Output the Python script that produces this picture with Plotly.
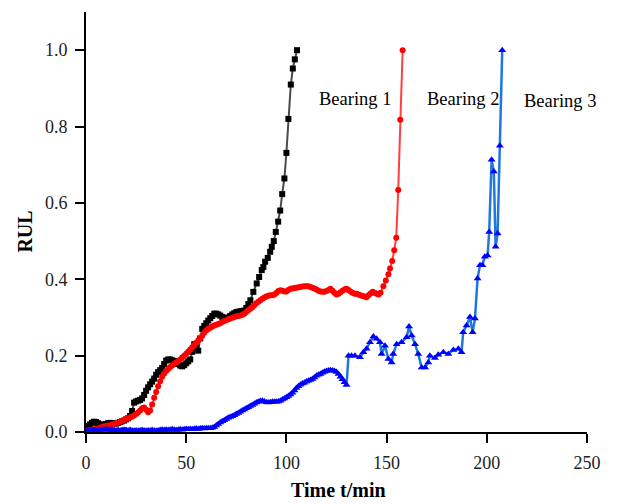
import plotly.graph_objects as go

# ---------------- data ----------------
# Bearing 1 (black)
b1_t = list(range(0, 82)) + [82, 83.5, 85.2, 86.4, 87.7, 88.5, 89.4, 90.7, 91.9, 92.7, 93.7,
                             94.7, 95.9, 96.9, 97.9, 99, 100, 101, 102.2, 103.2, 104.2, 105.3]
b1_rul = [0.012, 0.016, 0.020, 0.024, 0.027, 0.026, 0.023, 0.020, 0.018, 0.019,
          0.021, 0.023, 0.024, 0.023, 0.022, 0.022, 0.024, 0.026, 0.028, 0.030,
          0.033, 0.036, 0.042, 0.055, 0.077, 0.080, 0.082, 0.084, 0.088, 0.097,
          0.108, 0.117, 0.125, 0.132, 0.140, 0.150, 0.157, 0.162, 0.168, 0.178,
          0.187, 0.190, 0.190, 0.188, 0.186, 0.184, 0.178, 0.174, 0.172, 0.175,
          0.180, 0.185, 0.190, 0.210, 0.230, 0.222, 0.213, 0.245, 0.270, 0.278,
          0.285, 0.292, 0.298, 0.304, 0.310, 0.310, 0.308, 0.305, 0.301, 0.298,
          0.297, 0.300, 0.304, 0.308, 0.311, 0.314, 0.315, 0.316, 0.317, 0.318,
          0.325, 0.335,
          0.345, 0.367, 0.389, 0.406, 0.424, 0.432, 0.446, 0.456, 0.472, 0.485, 0.500,
          0.524, 0.551, 0.580, 0.623, 0.664, 0.731, 0.820, 0.910, 0.952, 0.976, 1.000]

# Bearing 2 (red)
b2_t = list(range(0, 148)) + [148.4, 149.6, 150.9, 151.7, 152.8, 153.8, 154.8, 155.8, 156.8, 158]
b2_rul = [0.003, 0.004, 0.005, 0.006, 0.007, 0.008, 0.009, 0.011, 0.013, 0.015,
          0.016, 0.017, 0.018, 0.019, 0.021, 0.023, 0.025, 0.027, 0.029, 0.031,
          0.034, 0.036, 0.038, 0.040, 0.043, 0.047, 0.051, 0.056, 0.062, 0.064,
          0.058, 0.052, 0.056, 0.072, 0.090, 0.105, 0.120, 0.133, 0.145, 0.153,
          0.160, 0.165, 0.170, 0.174, 0.178, 0.182, 0.186, 0.190, 0.195, 0.200,
          0.205, 0.210, 0.216, 0.222, 0.228, 0.234, 0.240, 0.245, 0.252, 0.260,
          0.266, 0.270, 0.273, 0.276, 0.279, 0.281, 0.283, 0.285, 0.288, 0.291,
          0.293, 0.295, 0.297, 0.299, 0.301, 0.303, 0.304, 0.305, 0.307, 0.310,
          0.314, 0.319, 0.323, 0.327, 0.332, 0.337, 0.341, 0.345, 0.349, 0.352,
          0.355, 0.357, 0.358, 0.358, 0.360, 0.364, 0.369, 0.371, 0.370, 0.368,
          0.368, 0.372, 0.375, 0.376, 0.377, 0.378, 0.379, 0.380, 0.381, 0.382,
          0.382, 0.382, 0.380, 0.378, 0.376, 0.373, 0.370, 0.368, 0.367, 0.367,
          0.369, 0.372, 0.375, 0.370, 0.365, 0.360, 0.362, 0.366, 0.370, 0.373,
          0.375, 0.372, 0.368, 0.365, 0.362, 0.362, 0.360, 0.358, 0.356, 0.355,
          0.353, 0.358, 0.363, 0.367, 0.365, 0.362, 0.360, 0.365,
          0.382, 0.397, 0.413, 0.428, 0.448, 0.476, 0.509, 0.634, 0.818, 1.000]

# Bearing 3 (blue)
b3_t = list(range(0, 131)) + [131, 132.5, 134.2, 136.7, 138.4, 140, 141.7, 143.4, 145, 146.7,
                              147.5, 149.2, 150.9, 152.5, 153.3, 155, 157.5, 160, 161.2, 162.5,
                              164.2, 165.8, 167.5, 169.2, 170.8, 171.6, 174.1, 175.8, 178.3, 180.8,
                              183.3, 185.8, 187.4, 188.2, 189.9, 191.6, 192.9, 194.1, 195.4, 196.6,
                              197.8, 199, 200.4, 201.2, 202.4, 203.5, 204.4, 205.4, 206.5, 207.7]
b3_rul = [0.002, 0.003, 0.004, 0.004, 0.005, 0.004, 0.005, 0.006, 0.005, 0.006,
          0.007, 0.006, 0.005, 0.006, 0.005, 0.004, 0.005, 0.004, 0.005, 0.006,
          0.005, 0.004, 0.005, 0.004, 0.003, 0.004, 0.003, 0.004, 0.005, 0.004,
          0.003, 0.004, 0.004, 0.005, 0.004, 0.003, 0.004, 0.005, 0.006, 0.005,
          0.006, 0.005, 0.006, 0.007, 0.006, 0.005, 0.006, 0.007, 0.006, 0.007,
          0.008, 0.007, 0.008, 0.007, 0.008, 0.009, 0.008, 0.009, 0.010, 0.009,
          0.010, 0.010, 0.010, 0.011, 0.013, 0.017, 0.021, 0.025, 0.028, 0.031,
          0.034, 0.037, 0.039, 0.041, 0.044, 0.047, 0.050, 0.053, 0.056, 0.059,
          0.062, 0.065, 0.068, 0.071, 0.074, 0.077, 0.079, 0.081, 0.082, 0.080,
          0.078, 0.077, 0.078, 0.079, 0.079, 0.079, 0.080, 0.082, 0.085, 0.088,
          0.091, 0.094, 0.098, 0.103, 0.109, 0.115, 0.120, 0.124, 0.127, 0.129,
          0.132, 0.134, 0.136, 0.139, 0.143, 0.147, 0.150, 0.152, 0.155, 0.158,
          0.160, 0.161, 0.162, 0.161, 0.160, 0.157, 0.152, 0.145, 0.138, 0.130,
          0.123,
          0.200, 0.200, 0.200, 0.196, 0.209, 0.218, 0.235, 0.250, 0.244, 0.235,
          0.204, 0.226, 0.191, 0.182, 0.204, 0.230, 0.235, 0.248, 0.276, 0.253,
          0.230, 0.204, 0.169, 0.169, 0.182, 0.200, 0.194, 0.202, 0.209, 0.204,
          0.215, 0.218, 0.209, 0.261, 0.279, 0.301, 0.261, 0.297, 0.402, 0.437,
          0.437, 0.459, 0.462, 0.524, 0.713, 0.682, 0.485, 0.520, 0.750, 1.000]

labels = ["Bearing 1", "Bearing 2", "Bearing 3"]
label_t = [134, 188.3, 236.4]
label_y = [0.871, 0.871, 0.866]

x_ticks = [0, 50, 100, 150, 200, 250]
y_ticks = [0.0, 0.2, 0.4, 0.6, 0.8, 1.0]

FONT = "Liberation Serif, Times New Roman, serif"

# ---------------- figure ----------------
fig = go.Figure()
fig.add_trace(go.Scatter(
    x=b1_t, y=b1_rul, mode="lines+markers", name=labels[0],
    line=dict(color="#4a4a4a", width=2),
    marker=dict(symbol="square", size=6, color="black"),
))
fig.add_trace(go.Scatter(
    x=b2_t, y=b2_rul, mode="lines+markers", name=labels[1],
    line=dict(color="#ff4040", width=2),
    marker=dict(symbol="circle", size=6, color="#ff0000"),
))
fig.add_trace(go.Scatter(
    x=b3_t, y=b3_rul, mode="lines+markers", name=labels[2],
    line=dict(color="#1f78e0", width=2.5),
    marker=dict(symbol="triangle-up", size=7, color="#0000ff"),
))

for txt, tx, ty in zip(labels, label_t, label_y):
    fig.add_annotation(x=tx, y=ty, xref="x", yref="y", text=txt, showarrow=False,
                       font=dict(family=FONT, size=18.5, color="black"),
                       xanchor="center", yanchor="middle")

fig.add_annotation(x=-0.121, y=0.478, xref="paper", yref="paper", text="<b>RUL</b>",
                   showarrow=False, textangle=-90, xanchor="center", yanchor="middle",
                   font=dict(family=FONT, size=20, color="black"))
fig.add_annotation(x=0.503, y=-0.139, xref="paper", yref="paper", text="<b>Time t/min</b>",
                   showarrow=False, xanchor="center", yanchor="middle",
                   font=dict(family=FONT, size=20, color="black"))

fig.update_layout(
    width=630, height=504,
    margin=dict(l=86, r=43, t=12, b=72),
    paper_bgcolor="white", plot_bgcolor="white",
    showlegend=False,
    font=dict(family=FONT, size=18, color="black"),
    xaxis=dict(range=[0, 250], tickvals=x_ticks, ticktext=[str(v) for v in x_ticks],
               showgrid=False, zeroline=False, showline=True, linecolor="black",
               linewidth=2, ticks="outside", ticklen=9, tickwidth=2, tickcolor="black",
               ticklabelstandoff=4,
               tickfont=dict(family=FONT, size=18, color="#222")),
    yaxis=dict(range=[0, 1.1], tickvals=y_ticks, ticktext=[f"{v:.1f}" for v in y_ticks],
               showgrid=False, zeroline=False, showline=True, linecolor="black",
               linewidth=2, ticks="outside", ticklen=9, tickwidth=2, tickcolor="black",
               ticklabelstandoff=4,
               tickfont=dict(family=FONT, size=18, color="#222")),
)

fig.write_html("out.html")
